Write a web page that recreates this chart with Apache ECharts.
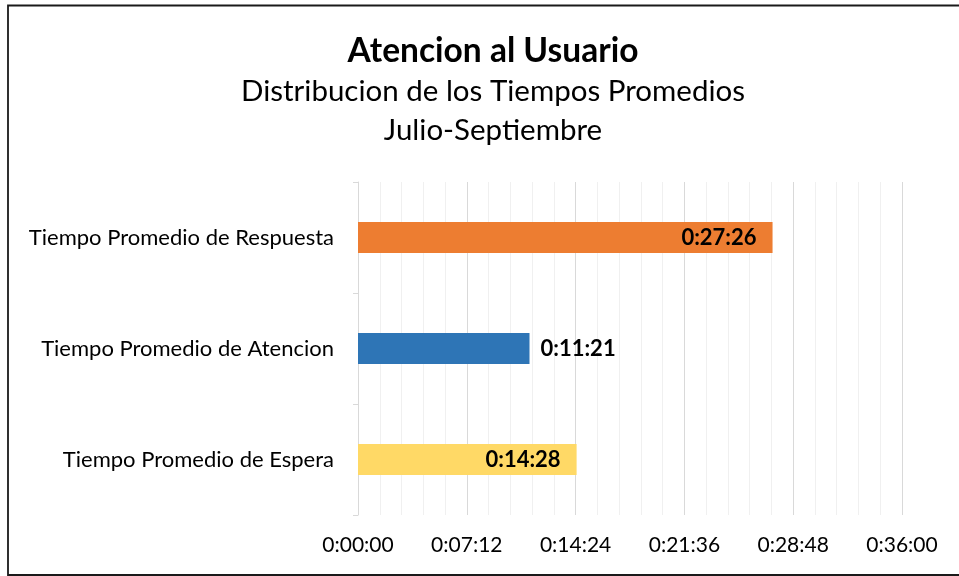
<!DOCTYPE html>
<html>
<head>
<meta charset="utf-8">
<script src="https://cdn.jsdelivr.net/npm/echarts@6/dist/echarts.min.js"></script>
<style>
html,body{margin:0;padding:0;background:#fff;}
#chart{width:959px;height:576px;}
</style>
</head>
<body>
<div id="chart"></div>
<script>
// Data
const categories = ['Tiempo Promedio de Respuesta', 'Tiempo Promedio de Atencion', 'Tiempo Promedio de Espera'];
const durations = ['0:27:26', '0:11:21', '0:14:28'];
const barColors = ['#ED7D31', '#2E75B6', '#FFD966'];
const labelPositions = ['insideRight', 'right', 'insideRight'];
const axisMax = 2160;       // 0:36:00
const axisInterval = 432;   // 0:07:12

function toSeconds(s) {
  const p = s.split(':').map(Number);
  return p[0] * 3600 + p[1] * 60 + p[2];
}
function toTime(v) {
  v = Math.round(v);
  const h = Math.floor(v / 3600), m = Math.floor((v % 3600) / 60), s = v % 60;
  return h + ':' + String(m).padStart(2, '0') + ':' + String(s).padStart(2, '0');
}

const FONT = 'Lato';
const chart = echarts.init(document.getElementById('chart'));
chart.setOption({
  animation: false,
  textStyle: { fontFamily: FONT },
  title: [
    { text: 'Atencion al Usuario', left: 488, textAlign: 'center', top: 29,
      textStyle: { fontFamily: FONT, fontSize: 33.5, fontWeight: 'bold', color: '#000' } },
    { text: 'Distribucion de los Tiempos Promedios', left: 488, textAlign: 'center', top: 71,
      textStyle: { fontFamily: FONT, fontSize: 29.5, fontWeight: 'normal', color: '#000' } },
    { text: 'Julio-Septiembre', left: 488, textAlign: 'center', top: 110,
      textStyle: { fontFamily: FONT, fontSize: 29.5, fontWeight: 'normal', color: '#000' } }
  ],
  graphic: [
    { type: 'rect', shape: { x: 8, y: 5.5, width: 1000, height: 569.5 },
      style: { fill: 'none', stroke: '#1a1a1a', lineWidth: 1.8 } }
  ],
  grid: { left: 358, right: 57, top: 182, bottom: 61, containLabel: false },
  xAxis: {
    type: 'value', min: 0, max: axisMax, interval: axisInterval,
    axisLine: { show: false }, axisTick: { show: false },
    axisLabel: { formatter: toTime, color: '#000', fontSize: 21, margin: 20, fontFamily: FONT },
    splitLine: { show: true, lineStyle: { color: '#d9d9d9', width: 1 } },
    minorTick: { show: false, splitNumber: 5 },
    minorSplitLine: { show: true, lineStyle: { color: '#f0f0f0', width: 1 } }
  },
  yAxis: {
    type: 'category', data: categories, inverse: true,
    axisLine: { show: true, lineStyle: { color: '#d9d9d9' } },
    axisTick: { show: true, length: 5, lineStyle: { color: '#d9d9d9' } },
    axisLabel: { color: '#000', fontSize: 22, margin: 24, fontFamily: FONT }
  },
  series: [{
    type: 'bar',
    barWidth: 31,
    data: durations.map((d, i) => ({
      value: toSeconds(d),
      itemStyle: { color: barColors[i] },
      label: { position: labelPositions[i], distance: labelPositions[i] === 'right' ? 11 : 16 }
    })),
    label: {
      show: true, color: '#000', fontWeight: 'bold', fontSize: 22, fontFamily: FONT,
      formatter: p => durations[p.dataIndex]
    }
  }]
});
</script>
</body>
</html>
